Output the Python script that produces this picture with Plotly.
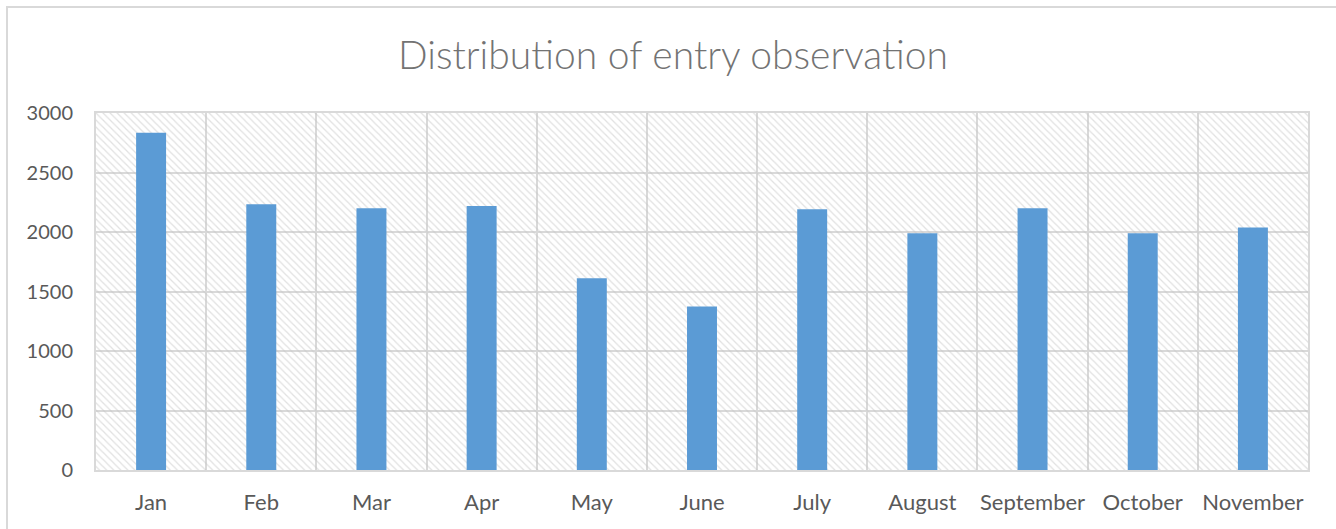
import plotly.graph_objects as go

months = ["Jan", "Feb", "Mar", "Apr", "May", "June", "July", "August",
          "September", "October", "November"]
entries = [2835, 2233, 2199, 2219, 1612, 1374, 2191, 1990, 2200, 1990, 2037]
y_max = 3000
y_ticks = [0, 500, 1000, 1500, 2000, 2500, 3000]

W, H = 1336, 529
L, R, T, B = 96, 28, 113, 59

fig = go.Figure()

# hatched plot-area background
fig.add_trace(go.Bar(
    x=months, y=[y_max] * len(months), width=1,
    marker=dict(color="rgba(0,0,0,0)", line=dict(width=0),
                pattern=dict(shape="\\", fgcolor="#c4c4c4", bgcolor="rgba(0,0,0,0)",
                             size=5, solidity=0.25)),
    hoverinfo="skip", showlegend=False,
))

fig.add_trace(go.Bar(
    x=months, y=entries, width=0.272,
    marker=dict(color="#5B9BD5", line=dict(width=0)),
    showlegend=False,
))

pw, ph = W - L - R, H - T - B
fig.add_shape(type="rect", xref="paper", yref="paper",
              x0=(7 - L) / pw, x1=(W + 20 - L) / pw,
              y0=-(H + 20 - (H - B)) / ph, y1=1 + (T - 7) / ph,
              line=dict(color="#d9d9d9", width=2), fillcolor="rgba(0,0,0,0)")

fig.update_layout(
    width=W, height=H,
    margin=dict(l=L, r=R, t=T, b=B, autoexpand=False),
    barmode="overlay",
    plot_bgcolor="white", paper_bgcolor="white",
    title=dict(text="Distribution of entry observation", x=673 / W, xref="container",
               xanchor="center", y=1 - 55 / H, yanchor="middle",
               font=dict(family="Lato", size=39, color="#737373", weight=300)),
    font=dict(family="Lato", color="#595959"),
    xaxis=dict(type="category", tickson="boundaries", showgrid=True,
               gridcolor="#d9d9d9", gridwidth=2, ticks="", showline=True,
               linecolor="#d9d9d9", linewidth=2, mirror=True, tickangle=0,
               automargin=False,
               tickfont=dict(size=22, color="#595959"), ticklabelstandoff=12),
    yaxis=dict(range=[0, y_max], tickvals=y_ticks, showgrid=True,
               gridcolor="#d9d9d9", gridwidth=2, zeroline=False, ticks="",
               showline=True, linecolor="#d9d9d9", linewidth=2, mirror=True,
               automargin=False,
               tickfont=dict(size=20, color="#595959"), ticklabelstandoff=17),
)

fig.write_html("out.html", config={"displayModeBar": False},
               post_script="document.body.style.margin='0';document.body.style.padding='0';")
